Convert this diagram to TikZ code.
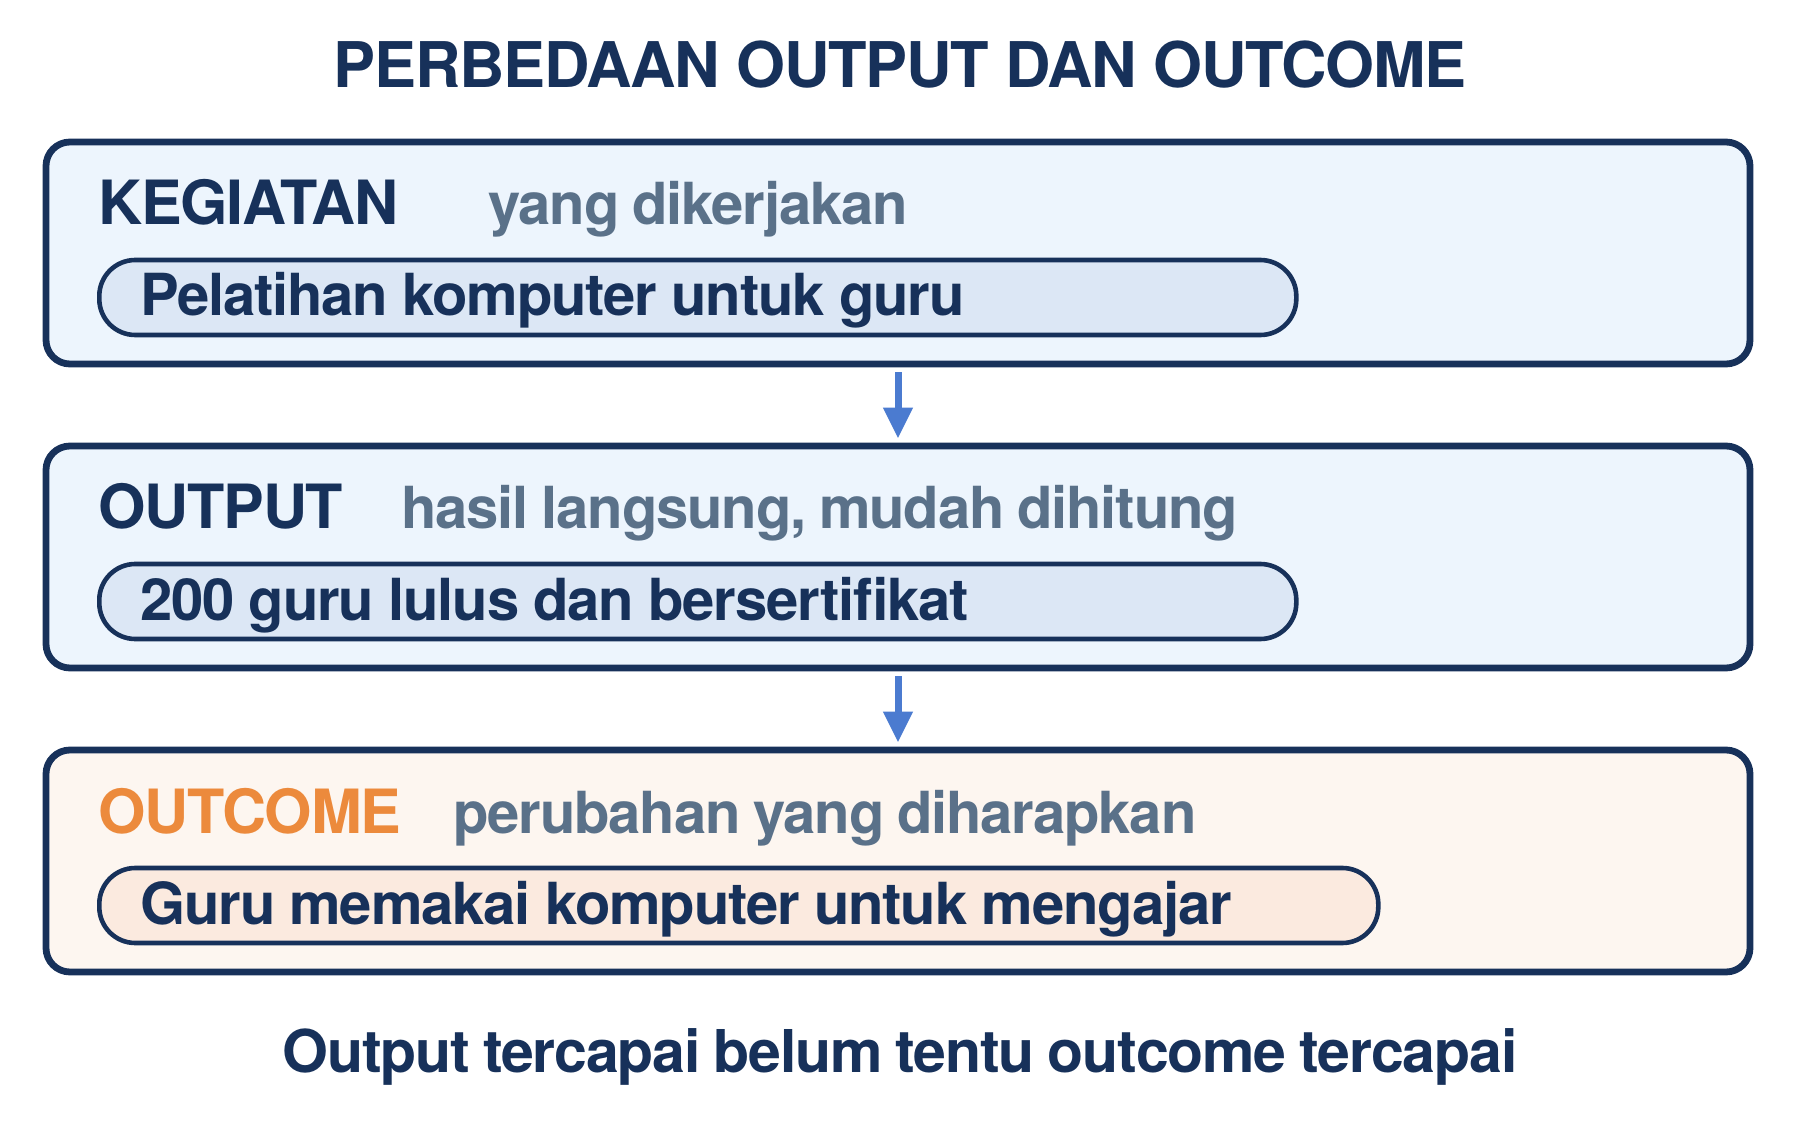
\documentclass[tikz,border=0pt]{standalone}
\usepackage{fontspec}
\setmainfont{TeX Gyre Heros}
\usetikzlibrary{arrows.meta}
\definecolor{navy}{HTML}{17315A}
\definecolor{abu}{HTML}{5A7189}
\definecolor{oranye}{HTML}{EC8A3C}
\definecolor{birumuda}{HTML}{EDF5FD}
\definecolor{birupil}{HTML}{DCE7F5}
\definecolor{krem}{HTML}{FDF6F0}
\definecolor{krempil}{HTML}{FBEADF}
\definecolor{panahbiru}{HTML}{4B7BD0}
\newcommand\rapat{\addfontfeature{LetterSpace=-2}\spaceskip=0.22em\relax}
\begin{document}
\begin{tikzpicture}[x=0.5pt, y=-0.5pt,
	teks/.style={font=\fontsize{29pt}{34pt}\selectfont\bfseries\rapat, inner sep=0},
	judul/.style={font=\fontsize{31.5pt}{36pt}\selectfont\bfseries\addfontfeature{LetterSpace=-2}, text=navy, inner sep=0, anchor=base},
	kotak/.style={draw=navy, line width=3.4pt, rounded corners=12pt, minimum width=852pt, minimum height=111pt},
	pil/.style={teks, text=navy, draw=navy, line width=2.3pt, rounded corners=18pt, anchor=west,
		minimum height=37.5pt, inner xsep=20.5pt, align=left, text height=20pt, text depth=1.5pt,
		execute at begin node={\spaceskip=0.245em\relax}},
	kepala/.style={teks, font=\fontsize{30.5pt}{34pt}\selectfont\bfseries\rapat, text=navy, anchor=base west},
	ket/.style={teks, text=abu, anchor=base west},
	panah/.style={draw=panahbiru, line width=3.5pt, -{Triangle[length=15.5pt, width=14pt]},
		shorten <=2.5pt, shorten >=2pt}]
	\useasboundingbox (0,0) rectangle (1800,1144);

	\node[judul] (judul) at (900,88) {PERBEDAAN OUTPUT DAN OUTCOME};

	% tiga tahap
	\node[kotak, fill=birumuda] (kegiatan) at (898,253) {};
	\node[kotak, fill=birumuda] (output) at (898,557) {};
	\node[kotak, fill=krem] (outcome) at (898,861) {};

	\node[kepala] (kegiatanJudul) at (98,225) {KEGIATAN};
	\node[ket] (kegiatanKet) at (488,225) {yang dikerjakan};
	\node[pil, fill=birupil, text width=557.5pt] (kegiatanPil) at (97,297.5) {Pelatihan komputer untuk guru};

	\node[kepala] (outputJudul) at (98,529) {OUTPUT};
	\node[ket] (outputKet) at (401,529) {hasil langsung, mudah dihitung};
	\node[pil, fill=birupil, text width=557.5pt] (outputPil) at (97,601.5) {200 guru lulus dan bersertifikat};

	\node[kepala, text=oranye] (outcomeJudul) at (98,833) {OUTCOME};
	\node[ket] (outcomeKet) at (453,833) {perubahan yang diharapkan};
	\node[pil, fill=krempil, text width=598.5pt] (outcomePil) at (97,905.5) {Guru memakai komputer untuk mengajar};

	\draw[panah] (kegiatan.south) -- (output.north);
	\draw[panah] (output.south) -- (outcome.north);

	\node[teks, font=\fontsize{29.5pt}{34pt}\selectfont\bfseries\rapat, text=navy, anchor=base] (catatan) at (900,1072) {Output tercapai belum tentu outcome tercapai};
\end{tikzpicture}
\end{document}
